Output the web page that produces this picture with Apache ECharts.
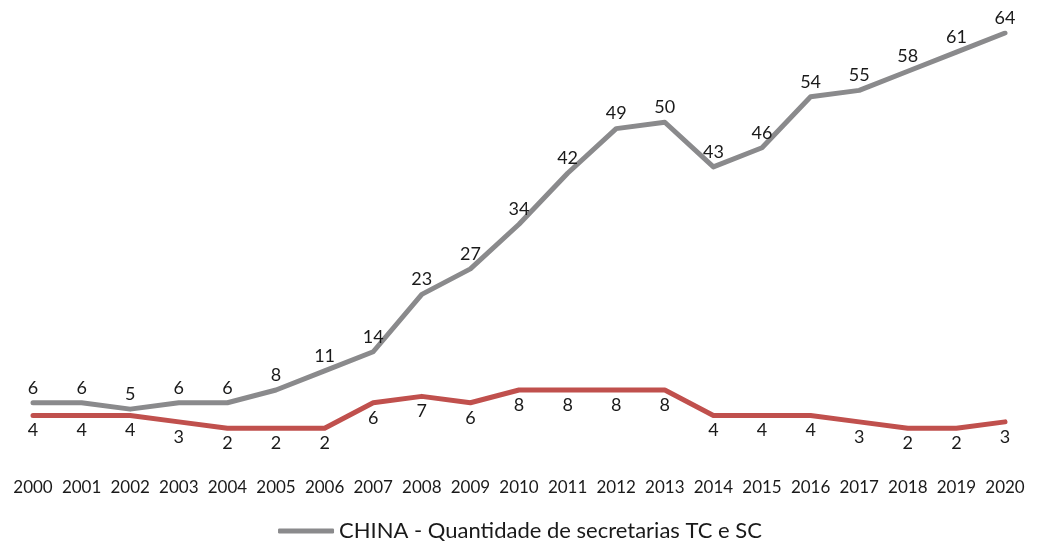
<!DOCTYPE html>
<html>
<head>
<meta charset="utf-8">
<script src="https://cdn.jsdelivr.net/npm/echarts@6/dist/echarts.min.js"></script>
<style>
  html, body { margin: 0; padding: 0; background: #fff; }
  #chart { width: 1040px; height: 547px; }
</style>
</head>
<body>
<div id="chart"></div>
<script>
// Data
const years = ['2000', '2001', '2002', '2003', '2004', '2005', '2006', '2007', '2008', '2009', '2010',
  '2011', '2012', '2013', '2014', '2015', '2016', '2017', '2018', '2019', '2020'];
const chinaSecretarias = [6, 6, 5, 6, 6, 8, 11, 14, 23, 27, 34, 42, 49, 50, 43, 46, 54, 55, 58, 61, 64];
const otherSecretarias = [4, 4, 4, 3, 2, 2, 2, 6, 7, 6, 8, 8, 8, 8, 4, 4, 4, 3, 2, 2, 3];

const font = 'Lato, "Open Sans", sans-serif';

const chart = echarts.init(document.getElementById('chart'));
chart.setOption({
  animation: false,
  textStyle: { fontFamily: font },
  grid: { left: 33, right: 35, top: 33, bottom: 106 },
  legend: {
    bottom: 0,
    left: 'center',
    data: ['CHINA - Quantidade de secretarias TC e SC'],
    itemWidth: 56,
    itemHeight: 5,
    itemGap: 10,
    icon: 'roundRect',
    textStyle: { fontSize: 22, color: '#1a1a1a', fontFamily: font }
  },
  xAxis: {
    type: 'category',
    data: years,
    boundaryGap: false,
    axisLine: { show: false },
    axisTick: { show: false },
    axisLabel: { interval: 0, color: '#1a1a1a', fontSize: 17, margin: 38, fontFamily: font }
  },
  yAxis: {
    type: 'value',
    min: 0,
    max: 64,
    show: false,
    splitLine: { show: false }
  },
  series: [
    {
      name: 'CHINA - Quantidade de secretarias TC e SC',
      type: 'line',
      data: chinaSecretarias,
      showSymbol: true,
      symbol: 'circle',
      symbolSize: 0,
      lineStyle: { color: '#8a8a8c', width: 5, cap: 'round', join: 'round' },
      itemStyle: { color: '#8a8a8c' },
      label: { show: true, position: 'top', distance: 6, fontSize: 18, color: '#1a1a1a', fontFamily: font }
    },
    {
      name: 'outros',
      type: 'line',
      data: otherSecretarias,
      showSymbol: true,
      symbol: 'circle',
      symbolSize: 0,
      lineStyle: { color: '#c0504d', width: 5, cap: 'round', join: 'round' },
      itemStyle: { color: '#c0504d' },
      label: { show: true, position: 'bottom', distance: 6, fontSize: 18, color: '#1a1a1a', fontFamily: font }
    }
  ]
});
</script>
</body>
</html>
